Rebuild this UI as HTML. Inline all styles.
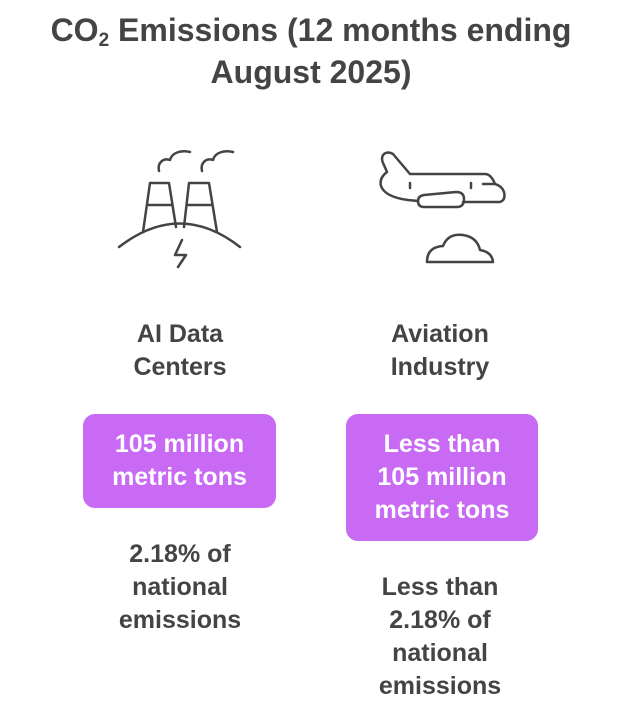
<!DOCTYPE html>
<html><head><style>
body{margin:0;width:622px;height:720px;background:#fff;font-family:"Liberation Sans",sans-serif;color:#444;position:relative;overflow:hidden}
.t{position:absolute;text-align:center;font-weight:bold;font-size:25px;line-height:33px}
.box{position:absolute;background:#c86af4;border-radius:12px;color:#fff}
sub{font-size:19px;position:relative;top:5px;vertical-align:baseline;line-height:0}
</style></head><body>
<div class="t" style="left:0;width:622px;top:9px;font-size:32px;line-height:42px">CO<sub>2</sub> Emissions (12 months ending<br>August 2025)</div>
<svg width="622" height="720" style="position:absolute;left:0;top:0" fill="none" stroke="#444" stroke-width="2.5" stroke-linecap="round" stroke-linejoin="round">
<path d="M150 183H169L176 227M150 183L143 232M147 205H172"/>
<path d="M189 183H209L217 232M189 183L184 227M187 205H212"/>
<path d="M119 247Q180 200 240 247"/>
<path d="M182 240L175 255H186L178 267"/>
<path d="M159 171C157 162 164 158 170 160C172 152 182 150 190 152"/>
<path d="M202 171C200 162 207 158 213 160C215 152 225 150 233 152"/>
<path d="M410 174L393 154Q388 151 384 154Q380 158 384 165L387 172Q379 178 381 186Q385 197 408 200L418 201M463 202H500Q506 200 504 192Q502 186 495 184H483M410 174H485Q491 174 495 184"/>
<path d="M410 183V188M471 183V188"/>
<path d="M424 195L456 192Q464 192 464 199Q464 207 457 207H424Q418 207 418 201Q418 196 424 195Z"/>
<path d="M427 262Q427 247 443 246Q448 233 463 235Q477 237 480 250Q492 252 493 262Z"/>
</svg>
<div class="t" style="left:80px;width:200px;top:318px">AI Data<br>Centers</div>
<div class="t" style="left:340px;width:200px;top:318px">Aviation<br>Industry</div>
<div class="box t" style="left:83px;width:193px;top:414px;height:94px;padding-top:14px;box-sizing:border-box">105 million<br>metric tons</div>
<div class="box t" style="left:346px;width:192px;top:414px;height:127px;padding-top:14px;box-sizing:border-box">Less than<br>105 million<br>metric tons</div>
<div class="t" style="left:80px;width:200px;top:538px">2.18% of<br>national<br>emissions</div>
<div class="t" style="left:340px;width:200px;top:571px">Less than<br>2.18% of<br>national<br>emissions</div>
</body></html>
